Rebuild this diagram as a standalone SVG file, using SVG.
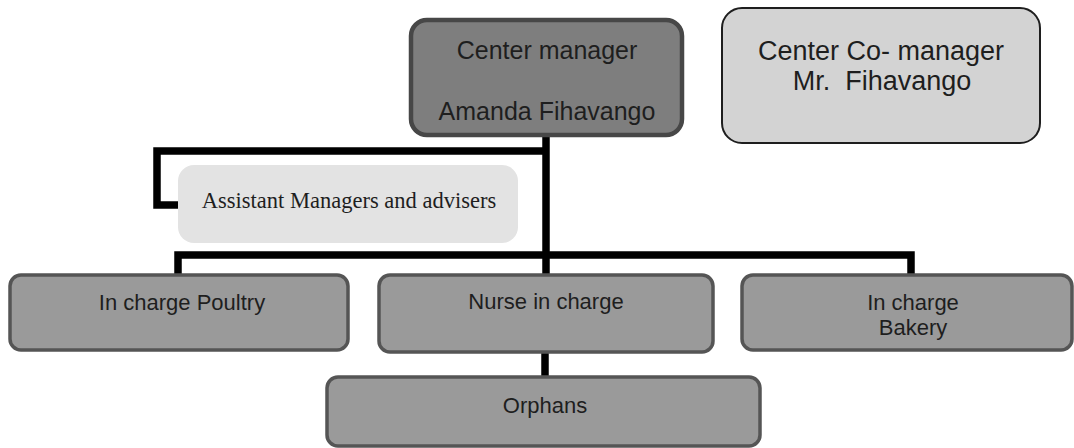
<svg xmlns="http://www.w3.org/2000/svg" width="1074" height="448" viewBox="0 0 1074 448">
  <style>
    .lbl { font-family: "Liberation Sans", Arial, sans-serif; fill: #1e1e1e; text-anchor: middle; }
    .ser { font-family: "Liberation Serif", "Times New Roman", serif; fill: #1e1e1e; text-anchor: middle; }
    .box { fill: #9a9a9a; stroke: #555555; stroke-width: 3.5; }
    .conn { fill: none; stroke: #000000; stroke-width: 7.5; stroke-linejoin: miter; stroke-linecap: butt; }
  </style>
  <rect width="1074" height="448" fill="#ffffff"/>

  <g id="connectors">
    <path class="conn" d="M546,135 V275"/>
    <path class="conn" d="M546,151 H157 V205 H178"/>
    <path class="conn" d="M178,276 V255 H911 V276"/>
    <path class="conn" d="M545,352 V378"/>
  </g>

  <g id="center-manager">
    <rect x="411" y="20" width="271" height="115" rx="16" fill="#7e7e7e" stroke="#474747" stroke-width="4.5"/>
    <text class="lbl" x="547" y="59" font-size="25">Center manager</text>
    <text class="lbl" x="547" y="120" font-size="25">Amanda Fihavango</text>
  </g>

  <g id="co-manager">
    <rect x="722" y="8" width="318" height="135" rx="20" fill="#d3d3d3" stroke="#1e1e1e" stroke-width="2"/>
    <text class="lbl" x="881" y="60" font-size="27">Center Co- manager</text>
    <text class="lbl" x="882" y="90" font-size="27" style="white-space:pre">Mr.  Fihavango</text>
  </g>

  <g id="assistant">
    <rect x="178" y="165" width="340" height="78" rx="16" fill="#e3e3e3"/>
    <text class="ser" x="349" y="208" font-size="22.5">Assistant Managers and advisers</text>
  </g>

  <g id="poultry">
    <rect class="box" x="10" y="275" width="338" height="75" rx="11"/>
    <text class="lbl" x="182" y="310" font-size="22">In charge Poultry</text>
  </g>

  <g id="nurse">
    <rect class="box" x="379" y="275" width="334" height="77" rx="11"/>
    <text class="lbl" x="546" y="309" font-size="22">Nurse in charge</text>
  </g>

  <g id="bakery">
    <rect class="box" x="742" y="275" width="330" height="75" rx="11"/>
    <text class="lbl" x="913" y="310" font-size="22">In charge</text>
    <text class="lbl" x="913" y="335" font-size="22">Bakery</text>
  </g>

  <g id="orphans">
    <rect class="box" x="327" y="377" width="433" height="69" rx="11"/>
    <text class="lbl" x="545" y="413" font-size="22">Orphans</text>
  </g>
</svg>
